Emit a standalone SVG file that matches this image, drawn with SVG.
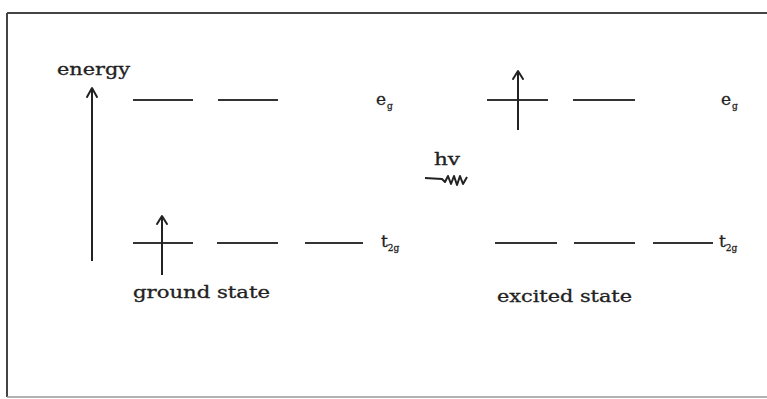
<svg xmlns="http://www.w3.org/2000/svg" width="767" height="399" viewBox="0 0 767 399">
<defs>
<style>
.lvl{stroke:#333;stroke-width:2;fill:none}
.arr{stroke:#222;stroke-width:2;fill:none}
.head{stroke:#222;stroke-width:2;fill:none;stroke-linecap:round;stroke-linejoin:round}
.t{font-family:"DejaVu Serif","Liberation Serif",serif;fill:#222;stroke:#222;stroke-width:0.3}
.lab{font-size:16px}
.main{font-size:17px}
.sub{font-size:9px}
</style>
</defs>
<rect x="0" y="0" width="767" height="399" fill="#fff"/>
<g id="frame">
<line x1="7" y1="13" x2="767" y2="13" stroke="#444" stroke-width="2"/>
<line x1="7" y1="13" x2="7" y2="397" stroke="#444" stroke-width="2"/>
<line x1="7" y1="397" x2="767" y2="397" stroke="#999" stroke-width="1.5"/>
</g>
<g id="energy-axis">
<line class="arr" x1="92" y1="88" x2="92" y2="261"/>
<polyline class="head" points="87,97 92,88 97,97"/>
<text class="t lab" x="57" y="75" textLength="73" lengthAdjust="spacingAndGlyphs">energy</text>
</g>
<g id="ground-eg">
<line class="lvl" x1="133" y1="100" x2="193" y2="100"/>
<line class="lvl" x1="218" y1="100" x2="278" y2="100"/>
<text class="t main" x="376" y="105">e<tspan class="sub" dx="1" dy="4">g</tspan></text>
</g>
<g id="ground-t2g">
<line class="lvl" x1="133" y1="243" x2="193" y2="243"/>
<line class="lvl" x1="217" y1="243" x2="278" y2="243"/>
<line class="lvl" x1="305" y1="243" x2="363" y2="243"/>
<text class="t main" x="381" y="247">t<tspan class="sub" dx="0" dy="4">2g</tspan></text>
</g>
<g id="ground-label">
<text class="t lab" x="133" y="298" textLength="137" lengthAdjust="spacingAndGlyphs">ground state</text>
</g>
<g id="excited-eg">
<line class="lvl" x1="487" y1="100" x2="548" y2="100"/>
<line class="lvl" x1="573" y1="100" x2="635" y2="100"/>
<text class="t main" x="721" y="105">e<tspan class="sub" dx="1" dy="4">g</tspan></text>
</g>
<g id="excited-t2g">
<line class="lvl" x1="495" y1="243" x2="557" y2="243"/>
<line class="lvl" x1="574" y1="243" x2="635" y2="243"/>
<line class="lvl" x1="653" y1="243" x2="713" y2="243"/>
<text class="t main" x="719" y="247">t<tspan class="sub" dx="0" dy="4">2g</tspan></text>
</g>
<g id="excited-label">
<text class="t lab" x="497" y="302" textLength="135" lengthAdjust="spacingAndGlyphs">excited state</text>
</g>
<g id="photon">
<text class="t lab" x="434" y="165" textLength="26" lengthAdjust="spacingAndGlyphs">hv</text>
<path d="M425,178 L442,179 L445,182 L448,176 L451,184 L454,176 L457,185 L460,176 L463,184 L467,177" stroke="#222" stroke-width="2" fill="none" stroke-linejoin="round"/>
</g>
<g id="connectors">
<line class="arr" x1="162" y1="216" x2="162" y2="275"/>
<polyline class="head" points="157,224 162,216 167,224"/>
<line class="arr" x1="518" y1="71" x2="518" y2="130"/>
<polyline class="head" points="513,79 518,71 523,79"/>
</g>
</svg>
